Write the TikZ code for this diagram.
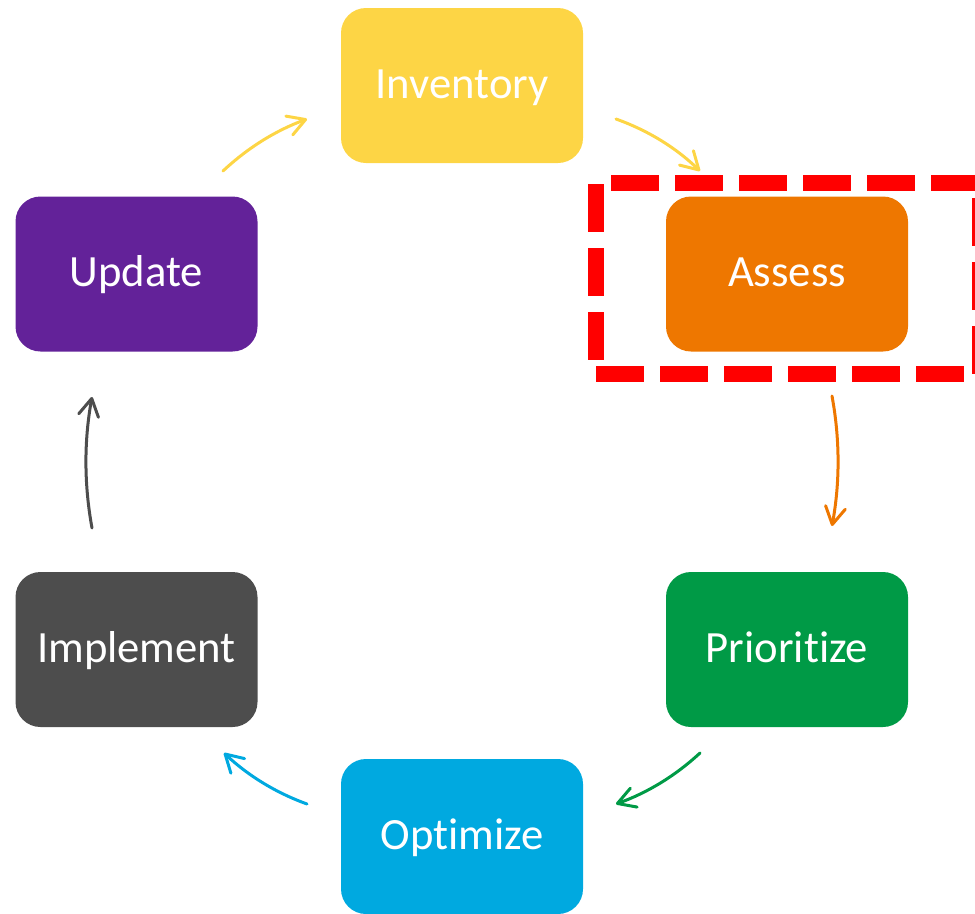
\documentclass[tikz,border=0pt]{standalone}
\usepackage{fontspec}
\setmainfont[Ligatures=NoCommon]{Carlito}
\usetikzlibrary{arrows.meta}
\definecolor{cInv}{RGB}{253,213,69}
\definecolor{cAss}{RGB}{238,119,0}
\definecolor{cPri}{RGB}{0,154,70}
\definecolor{cOpt}{RGB}{0,169,224}
\definecolor{cImp}{RGB}{77,77,77}
\definecolor{cUpd}{RGB}{99,34,153}
\definecolor{cMark}{RGB}{255,0,0}
\tikzset{
  stagebox/.style={rectangle, rounded corners=18.75pt, minimum width=181.5pt,
    minimum height=116.25pt, inner sep=0pt, text=white,
    text height=26pt, text depth=7pt,
    font=\fontsize{33.5}{40}\selectfont},
  flow/.style={line width=2.25pt, line cap=round,
    -{Straight Barb[length=13pt,width=15pt,line width=2.25pt,round]}},
  markline/.style={cMark, line width=12pt, dash pattern=on 36pt off 12pt}
}
\begin{document}
\begin{tikzpicture}[x=0.75pt, y=-0.75pt]
  \useasboundingbox (0,0) rectangle (975,914);
  \clip (0,0) rectangle (975,914);

  % process stages
  \node[stagebox, fill=cInv] (inv) at (462,85.5) {Inventory};
  \node[stagebox, fill=cAss] (ass) at (787,274) {Assess};
  \node[stagebox, fill=cPri] (pri) at (787,649.5) {Prioritize};
  \node[stagebox, fill=cOpt] (opt) at (462,836.5) {Optimize};
  \node[stagebox, fill=cImp] (imp) at (136.5,649.5) {Implement};
  \node[stagebox, fill=cUpd] (upd) at (136.5,274) {Update};

  % highlight frame round the current stage
  \draw[markline] (611,183) -- (995,183);
  \draw[markline] (596,184) -- (596,362);
  \draw[markline] (596,374) -- (975,374);
  \draw[markline] (980,198) -- (980,374);

  % arrow end points
  \coordinate (a1s) at (223,171);  \coordinate (a1e) at (307,119);
  \coordinate (a2s) at (616,119);  \coordinate (a2e) at (700,171);
  \coordinate (a3s) at (832,396);  \coordinate (a3e) at (832,526);
  \coordinate (a4s) at (700,753);  \coordinate (a4e) at (616,804);
  \coordinate (a5s) at (307,804);  \coordinate (a5e) at (224,753);
  \coordinate (a6s) at (92,528);   \coordinate (a6e) at (92,397);

  % cycle arrows
  \draw[flow, cInv] (a1s) .. controls (247.5,148) and (275.5,130.6) .. (a1e);
  \draw[flow, cInv] (a2s) .. controls (647.5,130.3) and (675.5,147.3) .. (a2e);
  \draw[flow, cAss] (a3s) .. controls (840,439.3) and (840,482.7) .. (a3e);
  \draw[flow, cPri] (a4s) .. controls (675.5,775.7) and (647.5,792.7) .. (a4e);
  \draw[flow, cOpt] (a5s) .. controls (275.8,792.7) and (248.2,775.7) .. (a5e);
  \draw[flow, cImp] (a6s) .. controls (84,484.3) and (84,440.7) .. (a6e);
\end{tikzpicture}
\end{document}
